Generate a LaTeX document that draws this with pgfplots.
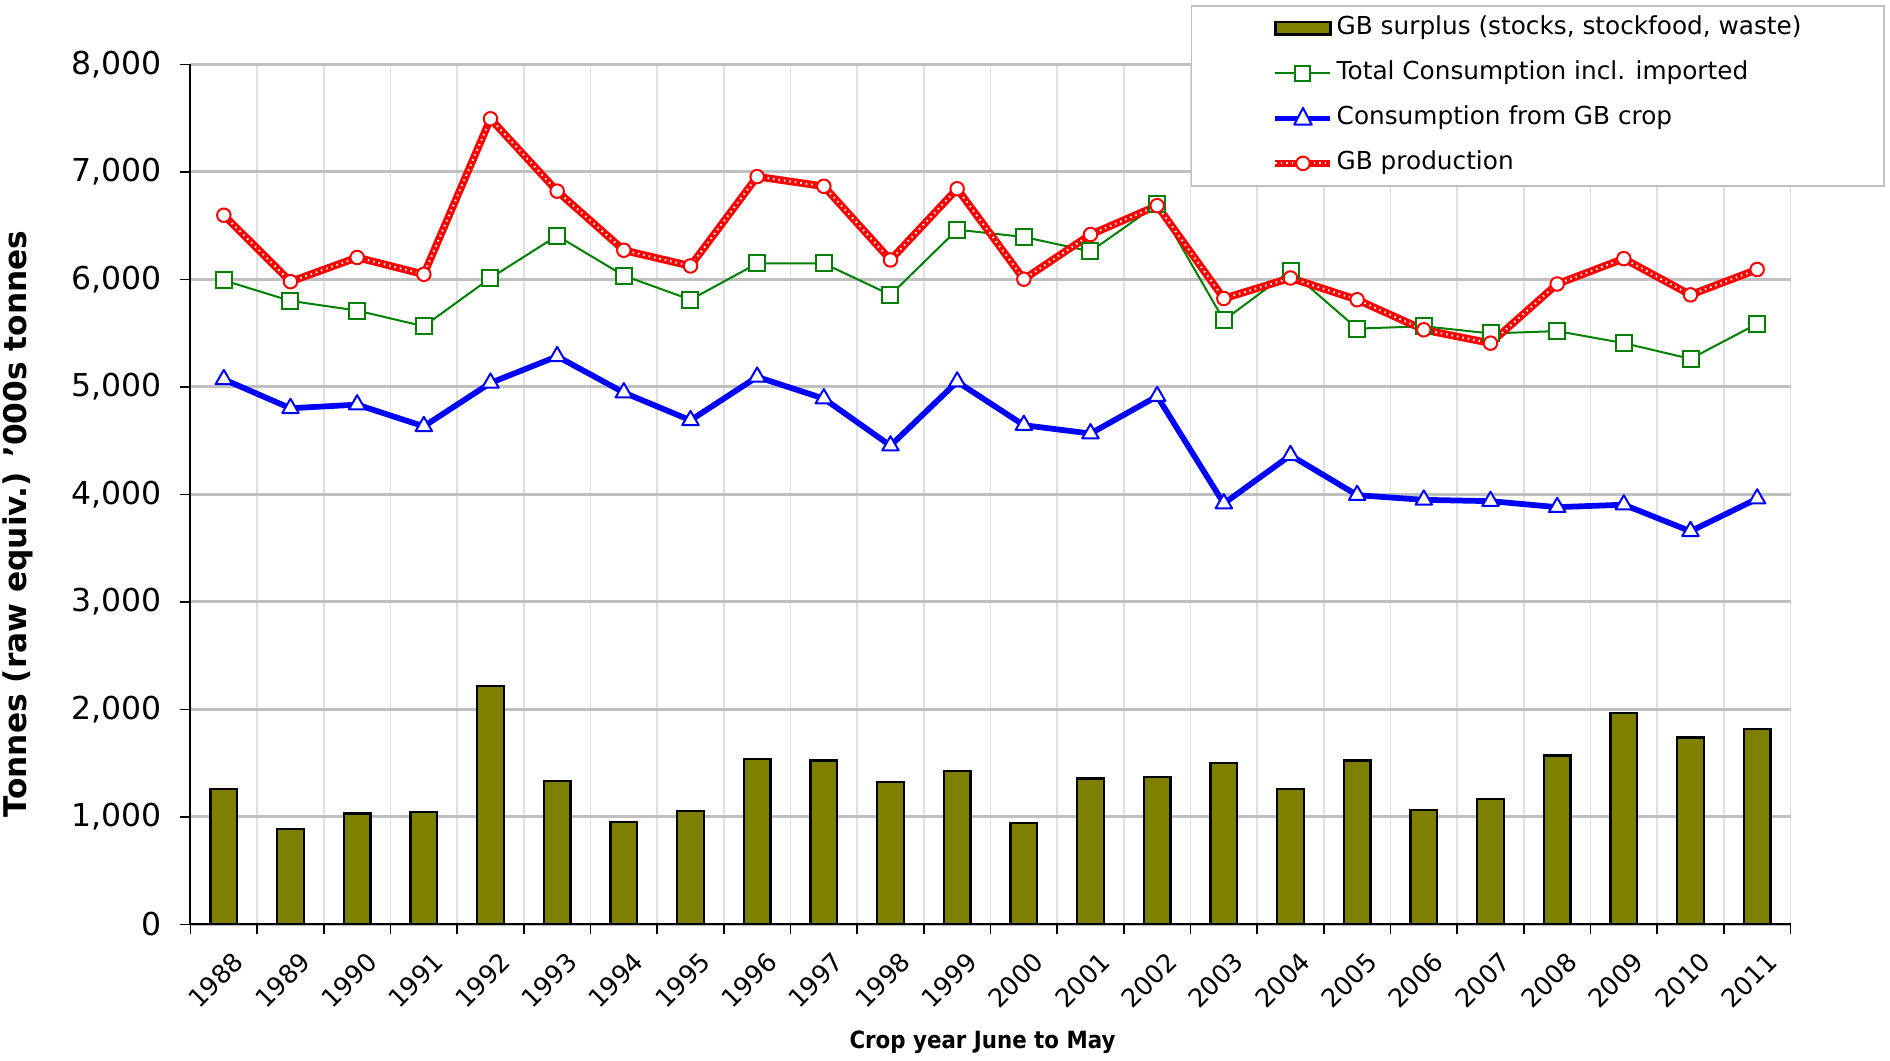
\documentclass[border=0pt]{standalone}
\usepackage{fontspec}
\setmainfont{DejaVu Sans}
\newfontfamily\condfont{DejaVu Sans Condensed}
\usepackage{pgfplots}
\usepackage{pgfplotstable}
\pgfplotsset{compat=1.18}
\usetikzlibrary{calc}
\definecolor{olivec}{HTML}{808000}
\definecolor{gridc}{HTML}{C0C0C0}
\definecolor{vgridc}{HTML}{E0E0E0}
\definecolor{greenc}{HTML}{008000}
\definecolor{bluec}{HTML}{0000FF}
\definecolor{redc}{HTML}{FF0000}
\pgfplotstableread{
year surplus total gbcrop prod
1988 1257 5992 5071 6598
1989 886 5801 4802 5980
1990 1032 5711 4836 6205
1991 1043 5565 4634 6048
1992 2222 6014 5038 7495
1993 1335 6407 5285 6822
1994 954 6036 4948 6272
1995 1055 5812 4690 6126
1996 1537 6149 5094 6957
1997 1526 6149 4892 6867
1998 1324 5857 4454 6182
1999 1425 6463 5049 6844
2000 942 6396 4645 6003
2001 1358 6261 4567 6418
2002 1369 6698 4914 6687
2003 1503 5621 3916 5823
2004 1257 6081 4365 6014
2005 1526 5543 3994 5812
2006 1066 5565 3950 5532
2007 1167 5498 3938 5408
2008 1571 5520 3882 5958
2009 1964 5408 3905 6194
2010 1739 5262 3658 5857
2011 1818 5588 3961 6093
}\datatable
\begin{document}
\begin{tikzpicture}
\begin{axis}[
  name=ax,
  scale only axis, width=640pt, height=344pt,
  xmin=1987.5, xmax=2011.5, ymin=0, ymax=8000,
  axis lines=left,
  axis line style={-, black, line width=0.8pt},
  tick align=outside,
  major tick length=4pt,
  tick style={black, line width=0.6pt},
  ytick={0,1000,...,8000},
  yticklabels={0,{1,000},{2,000},{3,000},{4,000},{5,000},{6,000},{7,000},{8,000}},
  yticklabel style={font=\fontsize{12.6}{15}\selectfont, xshift=-4pt},
  xtick={1987.5,1988.5,...,2011.5},
  xticklabels={},
  extra x ticks={1988,1989,1990,1991,1992,1993,1994,1995,1996,1997,1998,1999,2000,2001,2002,2003,2004,2005,2006,2007,2008,2009,2010,2011},
  extra x tick labels={1988,1989,1990,1991,1992,1993,1994,1995,1996,1997,1998,1999,2000,2001,2002,2003,2004,2005,2006,2007,2008,2009,2010,2011},
  extra x tick style={grid=none, major tick length=0pt,
    xticklabel style={rotate=45, anchor=north east, font=\fontsize{10.2}{12}\selectfont, inner sep=2pt, xshift=-2.8pt, yshift=-7.4pt}},
  xmajorgrids, ymajorgrids,
  x grid style={vgridc, line width=0.6pt},
  y grid style={gridc, line width=1.2pt},
  xlabel={\condfont\bfseries Crop year June to May},
  xlabel style={at={(axis description cs:0.495,-0.137)}, anchor=center, font=\fontsize{9.5}{11}\selectfont},
  ylabel={\bfseries Tonnes (raw equiv.) '000s tonnes},
  ylabel style={at={(axis description cs:-0.108,0.466)}, anchor=center, rotate=0, font=\fontsize{12.5}{14}\selectfont},
  legend style={at={(0.6253,1.069)}, anchor=north west, draw=gridc, line width=0.6pt, fill=white,
    inner xsep=32pt, inner ysep=0pt, row sep=0pt,
    font=\fontsize{9.9}{12}\selectfont,
    nodes={inner xsep=1pt, inner ysep=4pt, text height=7.5pt, text depth=2.5pt}},
  legend cell align=left,
]
\addplot[draw=black, fill=olivec, line width=0.9pt, ybar, bar width=0.4,
  legend image code/.code={\draw[fill=olivec, draw=black, line width=1pt] (0pt,-2.5pt) rectangle (22pt,2.5pt);}]
  table[x=year, y=surplus]{\datatable};
\addlegendentry{GB surplus (stocks, stockfood, waste)}
\addplot[greenc, line width=0.8pt, mark=square*, mark size=3.2pt,
  mark options={fill=white, draw=greenc, line width=0.8pt, solid},
  legend image code/.code={\draw[greenc, line width=0.8pt] (0pt,0pt) -- (22pt,0pt);
    \draw[greenc, fill=white, line width=0.8pt] (8pt,-3pt) rectangle (14pt,3pt);}]
  table[x=year, y=total]{\datatable};
\addlegendentry{Total Consumption incl. imported}
\addplot[bluec, line width=2.3pt, line join=round, mark=triangle*, mark size=3.8pt,
  mark options={fill=white, draw=bluec, line width=0.8pt, solid},
  legend image code/.code={\draw[bluec, line width=2.3pt] (0pt,0pt) -- (22pt,0pt);
    \draw[bluec, fill=white, line width=0.8pt] (7.5pt,-2.5pt) -- (14.5pt,-2.5pt) -- (11pt,4.2pt) -- cycle;}]
  table[x=year, y=gbcrop]{\datatable};
\addlegendentry{Consumption from GB crop}
\addplot[redc, line width=3pt, line join=round, forget plot] table[x=year, y=prod]{\datatable};
\addplot[white, line width=0.8pt, dash pattern=on 0.6pt off 1.6pt, forget plot] table[x=year, y=prod]{\datatable};
\addplot[only marks, mark=*, mark size=2.7pt,
  mark options={fill=white, draw=redc, line width=0.8pt},
  legend image code/.code={\draw[redc, line width=3pt] (0pt,0pt) -- (22pt,0pt);
    \draw[white, line width=0.8pt, dash pattern=on 0.6pt off 1.6pt] (0pt,0pt) -- (22pt,0pt);
    \draw[redc, fill=white, line width=0.8pt] (11pt,0pt) circle (2.7pt);}]
  table[x=year, y=prod]{\datatable};
\addlegendentry{GB production}
\end{axis}
\pgfresetboundingbox
\path ($(ax.south west)+(-76.2pt,-54.6pt)$) rectangle ($(ax.south west)+(679.8pt,369.8pt)$);
\end{tikzpicture}
\end{document}
